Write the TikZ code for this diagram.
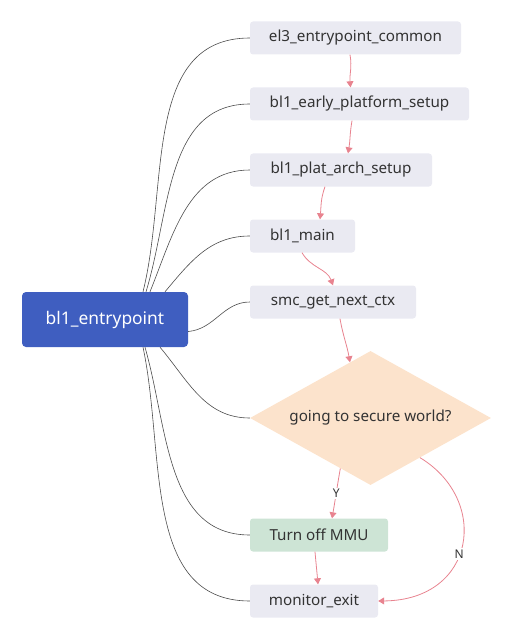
\documentclass[tikz,border=0pt]{standalone}
\usepackage{fontspec}
\setmainfont{Noto Sans}
\usepackage{xcolor}
\usetikzlibrary{shapes.geometric,arrows.meta,calc}

\definecolor{boxgray}{HTML}{EAEAF2}
\definecolor{entryblue}{HTML}{3F5EC0}
\definecolor{mmugreen}{HTML}{CDE4D5}
\definecolor{askpeach}{HTML}{FCE3CC}
\definecolor{flowred}{HTML}{E8838F}
\definecolor{inktext}{HTML}{333333}

\begin{document}
\begin{tikzpicture}[x=1pt, y=1pt, font=\fontsize{15.2}{17}\selectfont,
        callbox/.style={rectangle, rounded corners=3pt, fill=boxgray, text=inktext, minimum height=33pt, inner sep=0pt},
        calllink/.style={draw=black!70, line width=0.6pt},
        flowlink/.style={draw=flowred, line width=0.8pt, -{Triangle[length=6pt,width=7pt]}},
        flowlabel/.style={fill=white, text=inktext, inner sep=1.5pt, font=\fontsize{12}{14}\selectfont}]
        \useasboundingbox (0,0) rectangle (512,-639);

        \node (entry)  at (105,-319.5)   [rectangle, rounded corners=4pt, fill=entryblue, text=white, minimum width=166pt, minimum height=55pt, inner sep=0pt, font=\fontsize{17.4}{20}\selectfont] {bl1\_entrypoint};
        \node (el3)    at (355.5,-38)    [callbox, minimum width=211pt] {el3\_entrypoint\_common};
        \node (early)  at (359.5,-104)   [callbox, minimum width=219pt] {bl1\_early\_platform\_setup};
        \node (plat)   at (341,-170)     [callbox, minimum width=182pt] {bl1\_plat\_arch\_setup};
        \node (main)   at (302.5,-236)   [callbox, minimum width=105pt] {bl1\_main};
        \node (smc)    at (333,-302)     [callbox, minimum width=166pt] {smc\_get\_next\_ctx};
        \node (secure) at (370.5,-418)   [diamond, aspect=1.8, fill=askpeach, text=inktext, minimum width=241pt, minimum height=134pt, inner sep=0pt] {going to secure world?};
        \node (mmu)    at (319,-535)     [callbox, fill=mmugreen, minimum width=138pt] {Turn off MMU};
        \node (exit)   at (314,-601)     [callbox, minimum width=128pt] {monitor\_exit};

        % calls from the entry point
        \draw[calllink] ([xshift=38pt]entry.north) to[out=76, in=180] (el3.west);
        \draw[calllink] ([xshift=41pt]entry.north) to[out=73, in=180] (early.west);
        \draw[calllink] ([xshift=45pt]entry.north) to[out=68, in=180] (plat.west);
        \draw[calllink] ([xshift=60pt]entry.north) to[out=50, in=180] (main.west);
        \draw[calllink] ([yshift=-12pt]entry.east) to[out=5, in=180]  (smc.west);
        \draw[calllink] ([xshift=55pt]entry.south) to[out=-50, in=180] (secure.west);
        \draw[calllink] ([xshift=40pt]entry.south) to[out=-74, in=180] (mmu.west);
        \draw[calllink] ([xshift=38pt]entry.south) to[out=-78, in=180] (exit.west);

        % control flow
        \coordinate (askin)  at ($(secure.north)!0.17!(secure.west)$);
        \coordinate (askyes) at ($(secure.south)!0.25!(secure.west)$);
        \coordinate (askno)  at ($(secure.south)!0.41!(secure.east)$);

        \draw[flowlink] ([xshift=-5.5pt]el3.south)  to[out=-80, in=95]  ([xshift=-9pt]early.north);
        \draw[flowlink] ([xshift=-7.5pt]early.south) to[out=-100, in=80] ([xshift=7pt]plat.north);
        \draw[flowlink] ([xshift=-16pt]plat.south)  to[out=-110, in=85] ([xshift=17.5pt]main.north);
        \draw[flowlink] ([xshift=-0.5pt]main.south) to[out=-60, in=110] (smc.north);
        \draw[flowlink] ([xshift=7pt]smc.south)     to[out=-80, in=100] (askin);
        \draw[flowlink] (askyes) to[out=-100, in=80] node[flowlabel, pos=0.5] {Y} ([xshift=13pt]mmu.north);
        \draw[flowlink] ([xshift=-4pt]mmu.south)    to[out=-85, in=95]  ([xshift=4pt]exit.north);
        \draw[flowlink] (askno) .. controls (490,-500) and (476,-600) .. node[flowlabel, pos=0.55] {N} (exit.east);
\end{tikzpicture}
\end{document}
